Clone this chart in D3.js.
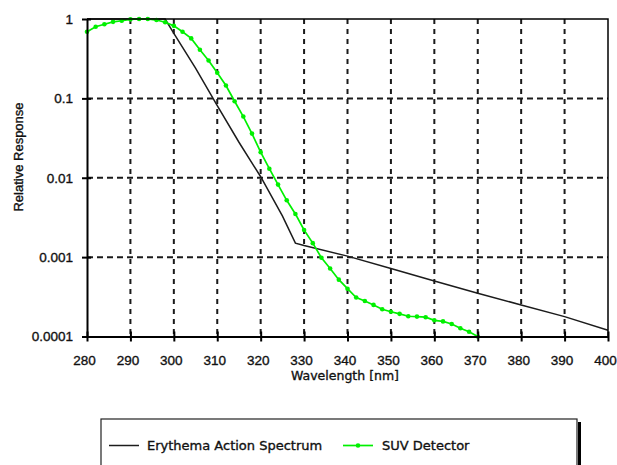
<!DOCTYPE html>
<html>
<head>
<meta charset="utf-8">
<script src="https://cdn.jsdelivr.net/npm/d3@7"></script>
<style>
  body { margin: 0; background: #fff; }
  text { stroke: #111; stroke-width: 0.35px; }
</style>
</head>
<body>
<svg id="chart"></svg>
<script>
// Erythema action spectrum
const erythemaNm = [280, 298, 300, 305, 310, 315, 320, 325, 328, 330, 340, 350, 360, 370, 380, 390, 400];
const erythemaVal = [1, 1, 0.66, 0.24, 0.081, 0.028, 0.0103, 0.0033, 0.0015, 0.0014, 0.00103, 0.00072, 0.0005, 0.00035, 0.00025, 0.000178, 0.00012];

// SUV detector response, 2 nm steps
const suvNm = [280, 282, 284, 286, 288, 290, 292, 294, 296, 298, 300, 302, 304, 306, 308, 310, 312, 314, 316, 318,
  320, 322, 324, 326, 328, 330, 332, 334, 336, 338, 340, 342, 344, 346, 348, 350, 352, 354, 356, 358,
  360, 362, 364, 366, 368, 370];
const suvVal = [0.69, 0.8, 0.86, 0.92, 0.95, 0.99, 1.0, 1.0, 0.97, 0.91, 0.82, 0.69, 0.57, 0.41, 0.3, 0.21, 0.145, 0.092, 0.059, 0.036,
  0.021, 0.013, 0.0082, 0.0052, 0.0035, 0.0022, 0.0015, 0.00098, 0.00072, 0.00052, 0.0004, 0.00031, 0.00028, 0.00025, 0.00022, 0.000205, 0.000193, 0.00018, 0.000178, 0.000175,
  0.00016, 0.000155, 0.000144, 0.000127, 0.000115, 0.0001];

const xTicks = [280, 290, 300, 310, 320, 330, 340, 350, 360, 370, 380, 390, 400];
const yTicks = [1, 0.1, 0.01, 0.001, 0.0001];
const yTickLabels = ['1', '0.1', '0.01', '0.001', '0.0001'];
const seriesNames = ['Erythema Action Spectrum', 'SUV Detector'];

const width = 617, height = 465;
const plot = { left: 87, right: 608, top: 19, bottom: 336.5 };

const svg = d3.select('#chart').attr('width', width).attr('height', height);

const x = d3.scaleLinear().domain([280, 400]).range([plot.left, plot.right]);
const y = d3.scaleLog().domain([0.0001, 1]).range([plot.bottom, plot.top]);

// dashed grid
svg.append('g')
  .selectAll('line')
  .data(xTicks.slice(1, -1))
  .enter()
  .append('line')
  .attr('x1', d => x(d)).attr('x2', d => x(d))
  .attr('y1', plot.top).attr('y2', plot.bottom)
  .attr('stroke', '#1a1a1a').attr('stroke-width', 2)
  .attr('stroke-dasharray', '5,5');

svg.append('g')
  .selectAll('line')
  .data(yTicks.slice(1, -1))
  .enter()
  .append('line')
  .attr('x1', plot.left).attr('x2', plot.right)
  .attr('y1', d => y(d)).attr('y2', d => y(d))
  .attr('stroke', '#1a1a1a').attr('stroke-width', 2)
  .attr('stroke-dasharray', '6,4');

// series
const blackData = erythemaNm.map((nm, i) => [nm, erythemaVal[i]]);
const greenData = suvNm.map((nm, i) => [nm, suvVal[i]]);

const line = d3.line().x(d => x(d[0])).y(d => y(d[1]));

svg.append('path')
  .datum(blackData)
  .attr('d', line)
  .attr('fill', 'none')
  .attr('stroke', '#1c1c1c')
  .attr('stroke-width', 1.5);

svg.append('path')
  .datum(greenData)
  .attr('d', line)
  .attr('fill', 'none')
  .attr('stroke', '#00f000')
  .attr('stroke-width', 1.7);

svg.append('g')
  .selectAll('circle')
  .data(greenData)
  .enter()
  .append('circle')
  .attr('cx', d => x(d[0]))
  .attr('cy', d => y(d[1]))
  .attr('r', 2.3)
  .attr('fill', '#00f000');

// frame: thin top/right, thicker left/bottom axes
svg.append('path')
  .attr('d', `M${plot.left},${plot.top}H${plot.right}V${plot.bottom}`)
  .attr('fill', 'none').attr('stroke', '#000').attr('stroke-width', 1.5);

const xAxis = svg.append('g')
  .attr('transform', `translate(0,${plot.bottom})`)
  .call(d3.axisBottom(x).tickValues(xTicks).tickSize(5).tickSizeOuter(0).tickPadding(14));
xAxis.select('.domain').attr('stroke-width', 2);
xAxis.selectAll('.tick line').attr('y1', -5).attr('stroke-width', 2);
xAxis.selectAll('text')
  .attr('dx', '-3px')
  .style('font-family', 'Liberation Sans, Arial, sans-serif')
  .style('font-size', '13.5px')
  .style('fill', '#111');

const yAxis = svg.append('g')
  .attr('transform', `translate(${plot.left},0)`)
  .call(d3.axisLeft(y).tickValues(yTicks).tickFormat((d, i) => yTickLabels[i])
    .tickSize(5).tickSizeOuter(0).tickPadding(9));
yAxis.select('.domain').attr('stroke-width', 2);
yAxis.selectAll('.tick line').attr('x1', 4).attr('stroke-width', 2);
yAxis.selectAll('text')
  .style('font-family', 'Liberation Sans, Arial, sans-serif')
  .style('font-size', '13.5px')
  .style('fill', '#111');

// axis titles
svg.append('text')
  .attr('x', 345).attr('y', 380)
  .attr('text-anchor', 'middle')
  .style('font-family', 'DejaVu Sans, sans-serif')
  .style('font-size', '12.5px')
  .style('fill', '#111')
  .text('Wavelength [nm]');

svg.append('text')
  .attr('transform', 'translate(23,157) rotate(-90)')
  .attr('text-anchor', 'middle')
  .style('font-family', 'Liberation Sans, Arial, sans-serif')
  .style('font-size', '13px')
  .style('fill', '#111')
  .text('Relative Response');

// legend box with drop shadow on the right
const legend = svg.append('g');
legend.append('rect')
  .attr('x', 578).attr('y', 422).attr('width', 3).attr('height', 60)
  .attr('fill', '#000');
legend.append('rect')
  .attr('x', 101).attr('y', 419).attr('width', 476).attr('height', 60)
  .attr('fill', '#fff').attr('stroke', '#222').attr('stroke-width', 1.2);

legend.append('line')
  .attr('x1', 109).attr('x2', 139).attr('y1', 445.5).attr('y2', 445.5)
  .attr('stroke', '#1c1c1c').attr('stroke-width', 1.5);
legend.append('text')
  .attr('x', 147).attr('y', 450)
  .style('font-family', 'DejaVu Sans, sans-serif')
  .style('font-size', '13px')
  .style('fill', '#111')
  .text(seriesNames[0]);

legend.append('line')
  .attr('x1', 343).attr('x2', 373).attr('y1', 445.5).attr('y2', 445.5)
  .attr('stroke', '#00f000').attr('stroke-width', 1.7);
legend.append('circle')
  .attr('cx', 358).attr('cy', 445.5).attr('r', 2.3)
  .attr('fill', '#00f000');
legend.append('text')
  .attr('x', 382).attr('y', 450)
  .style('font-family', 'DejaVu Sans, sans-serif')
  .style('font-size', '13px')
  .style('fill', '#111')
  .text(seriesNames[1]);
</script>
</body>
</html>
